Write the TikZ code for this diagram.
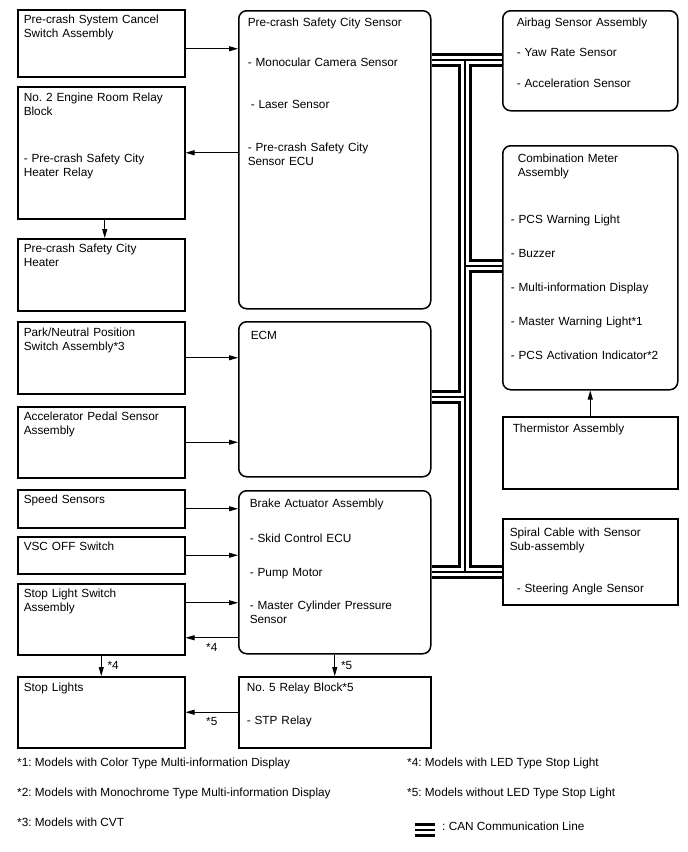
\documentclass[tikz,border=0pt]{standalone}
\usepackage{fontspec}
\setmainfont{Liberation Sans}
\usetikzlibrary{arrows.meta,calc,backgrounds}
\frenchspacing

\begin{document}
\begin{tikzpicture}[
      x=1pt, y=-1pt,
      blk/.style n args={4}{draw, line width=1.5pt, anchor=north west, align=left,
                   font=\fontsize{11.8pt}{14pt}\selectfont,
                   minimum width=#1pt, minimum height=#2pt,
                   text width=#1pt-2*#4pt, inner xsep=#4pt, inner ysep=0pt,
                   text height=#3pt, text depth=#2pt-#3pt},
      rblk/.style n args={4}{blk={#1}{#2}{#3}{#4}, rounded corners=8pt},
      arr/.style={-{Triangle[length=9pt, width=5pt]}, line width=0.8pt},
      tag/.style={font=\fontsize{11.8pt}{14pt}\selectfont, inner sep=2pt},
      note/.style={font=\fontsize{11.8pt}{14pt}\selectfont, anchor=base west, inner sep=0pt},
    ]
    \useasboundingbox (0,0) rectangle (688,852);

    % ---- left column ----
    \node[blk={167}{67}{14}{6}] (cancel) at (17,9) {Pre-crash System Cancel\\Switch Assembly};
    \node[blk={167}{132}{15}{6}] (relay2) at (17,86)
      {No. 2 Engine Room Relay\\Block\\[33pt]- Pre-crash Safety City\\Heater Relay};
    \node[blk={167}{72}{14}{6}] (heater) at (17,238) {Pre-crash Safety City\\Heater};
    \node[blk={167}{72}{15}{6}] (pnsw) at (17,321) {Park/Neutral Position\\Switch Assembly*3};
    \node[blk={167}{71}{14}{6}] (accel) at (17,406) {Accelerator Pedal Sensor\\Assembly};
    \node[blk={167}{38}{14}{6}] (speed) at (17,489) {Speed Sensors};
    \node[blk={167}{37}{13.5}{6}] (vscoff) at (17,536) {VSC OFF Switch};
    \node[blk={167}{71}{14}{6}] (stopsw) at (17,583) {Stop Light Switch\\Assembly};
    \node[blk={167}{71}{15}{6}] (stoplt) at (17,676) {Stop Lights};

    % ---- middle column ----
    \node[rblk={192}{298}{16}{9}] (pcs) at (238,10)
      {Pre-crash Safety City Sensor\\[26pt]- Monocular Camera Sensor\\[28pt]%
       \hspace*{3pt}- Laser Sensor\\[29pt]- Pre-crash Safety City\\Sensor ECU};
    \node[rblk={192}{155}{18}{12}] (ecm) at (238,321) {ECM};
    \node[rblk={192}{163}{17}{11}] (brake) at (238,490)
      {Brake Actuator Assembly\\[21pt]- Skid Control ECU\\[20pt]- Pump Motor\\[19pt]%
       - Master Cylinder Pressure\\Sensor};
    \node[blk={192}{71}{15}{8}] (relay5) at (238,676) {No. 5 Relay Block*5\\[19pt]- STP Relay};

    % ---- right column ----
    \node[rblk={175}{100}{16}{14}] (airbag) at (502,10)
      {Airbag Sensor Assembly\\[16pt]- Yaw Rate Sensor\\[17pt]- Acceleration Sensor};
    \node[rblk={175}{244}{17}{8}] (meter) at (502,145)
      {\hspace*{7pt}Combination Meter\\\hspace*{7pt}Assembly\\[33pt]- PCS Warning Light\\[20pt]%
       - Buzzer\\[20pt]- Multi-information Display\\[20pt]- Master Warning Light*1\\[20pt]%
       - PCS Activation Indicator*2};
    \node[blk={175}{72}{16}{10}] (therm) at (502,416) {Thermistor Assembly};
    \node[blk={175}{86}{18}{7}] (spiral) at (502,518)
      {Spiral Cable with Sensor\\Sub-assembly\\[28pt]\hspace*{7pt}- Steering Angle Sensor};

    % ---- signal lines ----
    \draw[arr] ($(cancel.east)+(0,5.5)$) coordinate (a1) -- (a1 -| pcs.west);
    \draw[arr] (relay2.east -| pcs.west) -- (relay2.east);
    \draw[arr] ($(relay2.south)+(3.5,0)$) coordinate (a2) -- (a2 |- heater.north);
    \draw[arr] (pnsw.east) -- (pnsw.east -| ecm.west);
    \draw[arr] (accel.east) -- (accel.east -| ecm.west);
    \draw[arr] (speed.east) -- (speed.east -| brake.west);
    \draw[arr] (vscoff.east) -- (vscoff.east -| brake.west);
    \draw[arr] ($(stopsw.east)+(0,-16.5)$) coordinate (a3) -- (a3 -| brake.west);
    \coordinate (a4) at ($(stopsw.east)+(0,18.5)$);
    \draw[arr] (a4 -| brake.west) -- node[tag, below=3pt] (t4a) {*4} (a4);
    \draw[arr] (stopsw.south) -- node[tag, right=4pt] (t4b) {*4} (stoplt.north);
    \draw[arr] (brake.south) -- node[tag, right=4pt] (t5a) {*5} (relay5.north);
    \draw[arr] (relay5.west) -- node[tag, below=3pt] (t5b) {*5} (relay5.west -| stoplt.east);
    \draw[arr] (therm.north) -- (meter.south);

    % ---- CAN bus ----
    \coordinate (bustop) at (465,60);
    \coordinate (busmeter) at (465,266);
    \coordinate (busecm) at (465,397);
    \coordinate (busbot) at (465,572);
    \coordinate (lega) at (415,830);
    \coordinate (legb) at (435,830);
    \begin{scope}[on background layer]
      \foreach \w/\c in {14pt/black, 8pt/white, 1.2pt/black}{
        \draw[line width=\w, draw=\c]
          (bustop -| pcs.east) -- (bustop -| airbag.west)
          (bustop) -- (busbot)
          (busmeter) -- (busmeter -| meter.west)
          (busecm -| ecm.east) -- (busecm)
          (busbot -| brake.east) -- (busbot -| spiral.west)
          (lega) -- (legb);
      }
    \end{scope}

    % ---- notes ----
    \node[note] (fn1) at (17,766) {*1: Models with Color Type Multi-information Display};
    \node[note] (fn2) at (17,796) {*2: Models with Monochrome Type Multi-information Display};
    \node[note] (fn3) at (17,826) {*3: Models with CVT};
    \node[note] (fn4) at (407,766) {*4: Models with LED Type Stop Light};
    \node[note] (fn5) at (407,796) {*5: Models without LED Type Stop Light};
    \node[note] (fncan) at (442,830) {: CAN Communication Line};
  \end{tikzpicture}
\end{document}
